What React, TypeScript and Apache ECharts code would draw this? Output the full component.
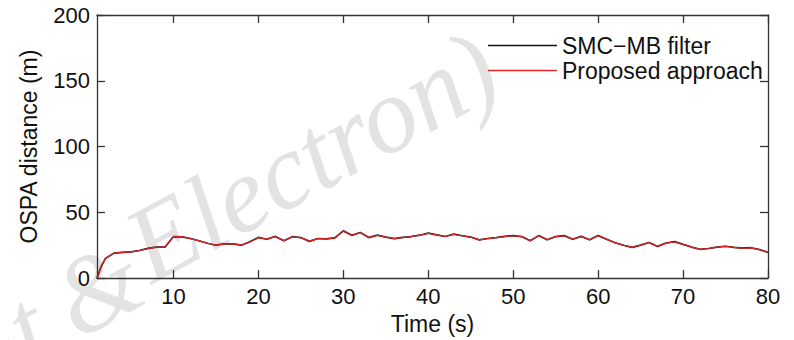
import React, { useEffect, useRef } from "react";
import * as echarts from "echarts";

const times = [
  1, 1.5, 2, 3, 4, 5, 6, 7, 8, 9, 10, 11, 12, 13, 14, 15, 16, 17, 18, 19, 20,
  21, 22, 23, 24, 25, 26, 27, 28, 29, 30, 31, 32, 33, 34, 35, 36, 37, 38, 39, 40,
  41, 42, 43, 44, 45, 46, 47, 48, 49, 50, 51, 52, 53, 54, 55, 56, 57, 58, 59, 60,
  61, 62, 63, 64, 65, 66, 67, 68, 69, 70, 71, 72, 73, 74, 75, 76, 77, 78, 79, 80,
];

const proposed = [
  0, 9, 15, 19, 19.5, 20, 21, 22.5, 23.5, 23.5, 31.5,
  31.5, 30, 28.5, 26.5, 25, 26, 26, 25, 27.5, 30.8,
  29.6, 31.6, 28.4, 31.4, 30.8, 27.9, 30, 29.8, 30.5, 35.8,
  32.6, 34.6, 30.8, 32.6, 31.2, 30, 30.8, 31.6, 32.5, 34.1,
  32.8, 31.6, 33.3, 32.2, 31.2, 29.1, 30, 30.8, 31.6, 32.2,
  31.6, 28.4, 32.2, 29.1, 31.5, 32.2, 29.5, 31.6, 29.1, 32.2,
  29.6, 26.8, 25, 23.4, 25, 27, 24.1, 26.6, 27.6, 25.6,
  23.6, 21.8, 22.5, 23.5, 24.1, 23.4, 22.7, 23, 21.6, 19.6,
];

const smcmb = [
  0, 9, 15, 19, 19.6, 20, 21, 22.6, 23.5, 23.5, 31.6,
  31.4, 30.1, 28.4, 26.5, 25, 26.1, 26, 25, 27.6, 30.9,
  29.5, 31.7, 28.4, 31.5, 30.8, 27.9, 30.1, 29.8, 30.6, 35.9,
  32.5, 34.7, 30.8, 32.7, 31.2, 30, 30.9, 31.6, 32.6, 34.2,
  32.8, 31.6, 33.4, 32.2, 31.2, 29.1, 30.1, 30.8, 31.7, 32.3,
  31.6, 28.4, 32.3, 29.1, 31.6, 32.3, 29.5, 31.7, 29.1, 32.3,
  29.6, 26.9, 25, 23.4, 25.1, 27.1, 24.1, 26.7, 27.7, 25.6,
  23.6, 21.9, 22.5, 23.6, 24.2, 23.4, 22.8, 23.1, 21.6, 19.6,
];

const xTicks = [10, 20, 30, 40, 50, 60, 70, 80];
const seriesNames = ["SMC\u2212MB filter", "Proposed approach"];
const axisTitles = { x: "Time (s)", y: "OSPA distance (m)" };
const watermark = ["ut", "&", "Electron)"];

const FONT = "'Liberation Sans', Arial, Helvetica, sans-serif";
const AXIS_COLOR = "#333";
const TEXT_COLOR = "#111";

export default function App() {
  const ref = useRef<HTMLDivElement>(null);

  useEffect(() => {
    if (!ref.current) return;
    const chart = echarts.init(ref.current, undefined, { renderer: "svg" });

    const pair = (vals: number[]) => times.map((t, i) => [t, vals[i]]);

    const wmStyle = {
      fill: "#e3e3e3",
      font: "italic 108px 'Liberation Serif', 'DejaVu Serif', serif",
      align: "left",
      verticalAlign: "bottom",
    };

    chart.setOption({
      animation: false,
      backgroundColor: "#fff",
      textStyle: { fontFamily: FONT },
      graphic: [
        {
          type: "text",
          x: -8,
          y: 408,
          rotation: 0.5,
          z: -10,
          silent: true,
          style: { ...wmStyle, text: watermark[0] },
        },
        {
          type: "text",
          x: 86,
          y: 356,
          rotation: 0.5,
          z: -10,
          silent: true,
          style: { ...wmStyle, text: watermark[1] },
        },
        {
          type: "text",
          x: 160,
          y: 300,
          rotation: 0.5,
          z: -10,
          silent: true,
          style: { ...wmStyle, text: watermark[2] },
        },
      ],
      grid: { left: 97, right: 26, top: 15, bottom: 57, containLabel: false },
      legend: {
        orient: "vertical",
        left: 483,
        top: 28,
        itemWidth: 69,
        itemHeight: 1.6,
        itemGap: 0,
        icon: "rect",
        textStyle: {
          fontSize: 23,
          color: TEXT_COLOR,
          fontFamily: FONT,
          lineHeight: 25,
        },
        data: seriesNames,
      },
      xAxis: [
        {
          type: "value",
          min: 1,
          max: 80,
          position: "bottom",
          name: axisTitles.x,
          nameLocation: "middle",
          nameGap: 30,
          nameTextStyle: { fontSize: 23, color: TEXT_COLOR, fontFamily: FONT },
          axisLine: { show: true, onZero: false, lineStyle: { color: AXIS_COLOR, width: 1.3 } },
          axisTick: {
            show: true,
            inside: true,
            length: 8,
            customValues: xTicks,
            lineStyle: { color: AXIS_COLOR, width: 1.3 },
          },
          axisLabel: {
            customValues: xTicks,
            fontSize: 22,
            color: TEXT_COLOR,
            margin: 7,
            fontFamily: FONT,
          },
          splitLine: { show: false },
        },
        {
          type: "value",
          min: 1,
          max: 80,
          position: "top",
          axisLine: { show: true, onZero: false, lineStyle: { color: AXIS_COLOR, width: 1.3 } },
          axisTick: {
            show: true,
            inside: true,
            length: 8,
            customValues: xTicks,
            lineStyle: { color: AXIS_COLOR, width: 1.3 },
          },
          axisLabel: { show: false },
          splitLine: { show: false },
        },
      ],
      yAxis: [
        {
          type: "value",
          min: 0,
          max: 200,
          interval: 50,
          position: "left",
          name: axisTitles.y,
          nameLocation: "middle",
          nameGap: 57,
          nameTextStyle: { fontSize: 23, color: TEXT_COLOR, fontFamily: FONT },
          axisLine: { show: true, onZero: false, lineStyle: { color: AXIS_COLOR, width: 1.3 } },
          axisTick: { show: true, inside: true, length: 8, lineStyle: { color: AXIS_COLOR, width: 1.3 } },
          axisLabel: { fontSize: 22, color: TEXT_COLOR, margin: 7, fontFamily: FONT },
          splitLine: { show: false },
        },
        {
          type: "value",
          min: 0,
          max: 200,
          interval: 50,
          position: "right",
          axisLine: { show: true, onZero: false, lineStyle: { color: AXIS_COLOR, width: 1.3 } },
          axisTick: { show: true, inside: true, length: 8, lineStyle: { color: AXIS_COLOR, width: 1.3 } },
          axisLabel: { show: false },
          splitLine: { show: false },
        },
      ],
      series: [
        {
          name: seriesNames[0],
          type: "line",
          data: pair(smcmb),
          showSymbol: false,
          symbol: "none",
          itemStyle: { color: "#111" },
          lineStyle: { color: "#111", width: 1.7 },
          z: 2,
        },
        {
          name: seriesNames[1],
          type: "line",
          data: pair(proposed),
          showSymbol: false,
          symbol: "none",
          itemStyle: { color: "#e8262a" },
          lineStyle: { color: "#e8262a", width: 1.2 },
          z: 3,
        },
      ],
    });

    return () => chart.dispose();
  }, []);

  return <div ref={ref} style={{ width: 794, height: 340, marginLeft: -8, marginTop: -8 }} />;
}
